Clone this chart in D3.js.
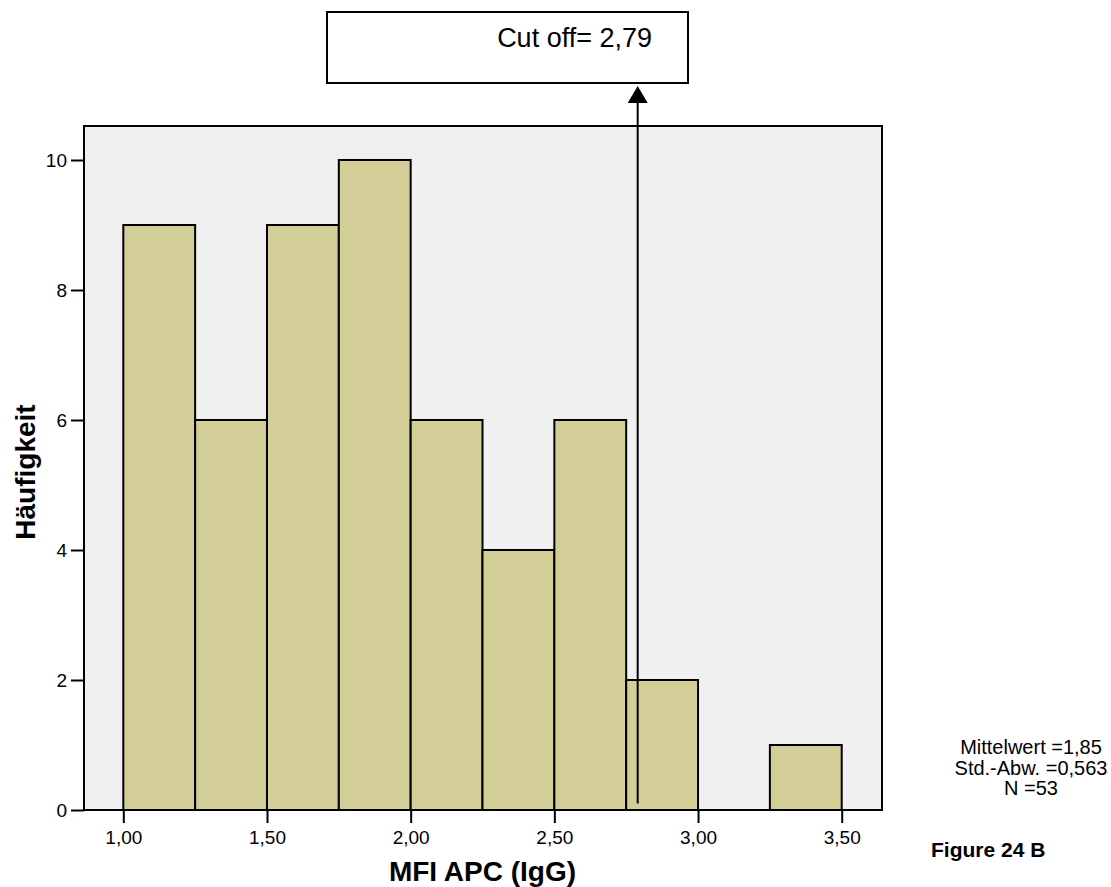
<!DOCTYPE html>
<html>
<head>
<meta charset="utf-8">
<script src="https://cdn.jsdelivr.net/npm/d3@7"></script>
<style>
  html, body { margin: 0; padding: 0; background: #ffffff; }
  svg { display: block; font-family: "Liberation Sans", Arial, sans-serif; }
</style>
</head>
<body>
<svg id="chart" width="1111" height="887"></svg>
<script>
// Histogram bins (lower edge, upper edge) and counts
const binStarts = [1.00, 1.25, 1.50, 1.75, 2.00, 2.25, 2.50, 2.75, 3.00, 3.25];
const binEnds   = [1.25, 1.50, 1.75, 2.00, 2.25, 2.50, 2.75, 3.00, 3.25, 3.50];
const counts    = [9, 6, 9, 10, 6, 4, 6, 2, 0, 1];

const xTicks = [1.00, 1.50, 2.00, 2.50, 3.00, 3.50];
const yTicks = [0, 2, 4, 6, 8, 10];

const cutoff = 2.79;
const cutoffLabel = "Cut off= 2,79";
const statLines = ["Mittelwert =1,85", "Std.-Abw. =0,563", "N =53"];
const figureLabel = "Figure 24 B";
const xTitle = "MFI APC (IgG)";
const yTitle = "Häufigkeit";

const svg = d3.select("#chart");

const plot = { left: 84, right: 882, top: 126, bottom: 810 };

const x = d3.scaleLinear().domain([0.8632, 3.6402]).range([plot.left, plot.right]);
const y = d3.scaleLinear().domain([0, 10.523]).range([plot.bottom, plot.top]);

const fmt = d => d.toFixed(2).replace(".", ",");

// plot background
svg.append("rect")
  .attr("x", plot.left).attr("y", plot.top)
  .attr("width", plot.right - plot.left).attr("height", plot.bottom - plot.top)
  .attr("fill", "#f0f0f0");

// bars
const bins = counts.map((c, i) => ({ x0: binStarts[i], x1: binEnds[i], n: c })).filter(b => b.n > 0);
svg.append("g").selectAll("rect").data(bins).join("rect")
  .attr("x", d => x(d.x0))
  .attr("y", d => y(d.n))
  .attr("width", d => x(d.x1) - x(d.x0))
  .attr("height", d => y(0) - y(d.n))
  .attr("fill", "#d3ce98")
  .attr("stroke", "#000")
  .attr("stroke-width", 2);

// frame
svg.append("rect")
  .attr("x", plot.left).attr("y", plot.top)
  .attr("width", plot.right - plot.left).attr("height", plot.bottom - plot.top)
  .attr("fill", "none").attr("stroke", "#000").attr("stroke-width", 2);

// axes
const xAxis = svg.append("g")
  .attr("transform", `translate(0,${plot.bottom})`)
  .call(d3.axisBottom(x).tickValues(xTicks).tickFormat(fmt).tickSize(13).tickPadding(8));
const yAxis = svg.append("g")
  .attr("transform", `translate(${plot.left},0)`)
  .call(d3.axisLeft(y).tickValues(yTicks).tickFormat(d3.format("d")).tickSize(13).tickPadding(4));

[xAxis, yAxis].forEach(g => {
  g.select(".domain").remove();
  g.selectAll(".tick line").attr("stroke", "#000").attr("stroke-width", 2);
  g.selectAll(".tick text").attr("fill", "#000")
    .style("font-size", "19px").style("font-family", "'Liberation Sans', Arial, sans-serif");
});

// axis titles
svg.append("text")
  .attr("x", x(2.25)).attr("y", 881)
  .attr("text-anchor", "middle")
  .style("font-size", "28px").style("font-weight", "bold")
  .text(xTitle);

svg.append("text")
  .attr("transform", `translate(35,${y(5.2)}) rotate(-90)`)
  .attr("text-anchor", "middle")
  .style("font-size", "28px").style("font-weight", "bold")
  .text(yTitle);

// cut-off marker with arrow
const cx = x(cutoff);
svg.append("line")
  .attr("x1", cx).attr("x2", cx)
  .attr("y1", y(0.1)).attr("y2", 100)
  .attr("stroke", "#000").attr("stroke-width", 2);
svg.append("path")
  .attr("d", `M${cx},86 L${cx - 10},103 L${cx + 10},103 Z`)
  .attr("fill", "#000");

// annotation box
svg.append("rect")
  .attr("x", 327).attr("y", 12).attr("width", 361).attr("height", 71)
  .attr("fill", "#fff").attr("stroke", "#000").attr("stroke-width", 2);
svg.append("text")
  .attr("x", 652).attr("y", 47)
  .attr("text-anchor", "end")
  .style("font-size", "27px")
  .text(cutoffLabel);

// summary statistics, centred block
svg.append("g").selectAll("text").data(statLines).join("text")
  .attr("x", 1031)
  .attr("y", (d, i) => 754 + i * 20.5)
  .attr("text-anchor", "middle")
  .style("font-size", "20px")
  .text(d => d);

svg.append("text")
  .attr("x", 931).attr("y", 857)
  .style("font-size", "21px").style("font-weight", "bold")
  .text(figureLabel);
</script>
</body>
</html>
